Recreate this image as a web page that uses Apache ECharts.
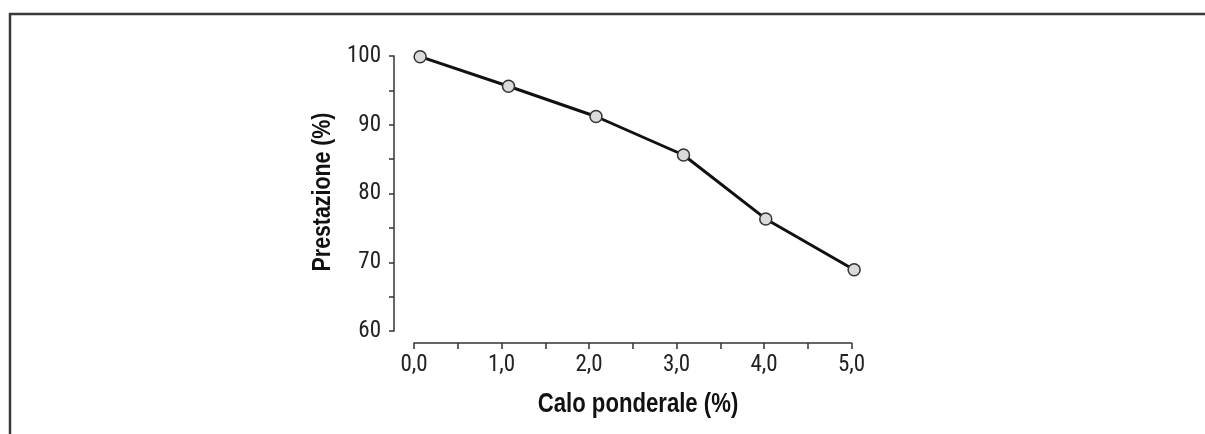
<!DOCTYPE html>
<html>
<head>
<meta charset="utf-8">
<script src="https://cdn.jsdelivr.net/npm/echarts@6/dist/echarts.min.js"></script>
<style>
html,body{margin:0;padding:0;background:#fff;}
#chart{width:1205px;height:434px;}
</style>
</head>
<body>
<div id="chart"></div>
<script>
// Data
var weightLoss = [0.07, 1.08, 2.08, 3.08, 4.02, 5.03];   // Calo ponderale (%)
var performance = [99.9, 95.6, 91.2, 85.6, 76.3, 68.9];  // Prestazione (%)
var xTitle = 'Calo ponderale (%)';
var yTitle = 'Prestazione (%)';

var LABEL_FONT = "'Roboto Condensed', 'Liberation Sans Narrow', 'DejaVu Sans Condensed', sans-serif";
var points = weightLoss.map(function (x, i) { return [x, performance[i]]; });

var hiddenAxis = { show: false };
var xCommon = { type: 'value', min: 0, max: 5, interval: 0.5 };
var yCommon = { type: 'value', min: 60, max: 100, interval: 5 };
var axisLineStyle = { color: '#333', width: 1.5 };

var chart = echarts.init(document.getElementById('chart'));
chart.setOption({
  animation: false,
  backgroundColor: '#ffffff',
  grid: [
    { left: 414, right: 353.5, top: 56, bottom: 103 },   // data grid
    { left: 394, right: 353.5, top: 56, bottom: 103 },   // y axis, shifted left
    { left: 414, right: 353.5, top: 56, bottom: 91 }     // x axis, shifted down
  ],
  xAxis: [
    Object.assign({ gridIndex: 0 }, xCommon, hiddenAxis),
    Object.assign({ gridIndex: 1 }, xCommon, hiddenAxis),
    Object.assign({ gridIndex: 2 }, xCommon, {
      axisLine: { show: true, lineStyle: axisLineStyle },
      axisTick: { show: true, length: 6, inside: false, lineStyle: axisLineStyle },
      splitLine: { show: false },
      axisLabel: {
        margin: 11, fontFamily: LABEL_FONT, fontSize: 23, color: '#222',
        formatter: function (v) { return (Math.abs(v - Math.round(v)) < 1e-6) ? v.toFixed(1).replace('.', ',') : ''; }
      }
    })
  ],
  yAxis: [
    Object.assign({ gridIndex: 0 }, yCommon, hiddenAxis),
    Object.assign({ gridIndex: 1 }, yCommon, {
      axisLine: { show: true, lineStyle: axisLineStyle },
      axisTick: { show: true, length: 5, inside: false, lineStyle: axisLineStyle },
      splitLine: { show: false },
      axisLabel: {
        margin: 13, fontFamily: LABEL_FONT, fontSize: 23, color: '#222',
        formatter: function (v) { return (v % 10 === 0) ? String(v) : ''; }
      }
    }),
    Object.assign({ gridIndex: 2 }, yCommon, hiddenAxis)
  ],
  series: [{
    type: 'line',
    xAxisIndex: 0, yAxisIndex: 0,
    data: points,
    clip: false,
    symbol: 'circle',
    symbolSize: 12,
    lineStyle: { color: '#111', width: 3 },
    itemStyle: { color: '#dadada', borderColor: '#333', borderWidth: 1.5 }
  }],
  graphic: [
    {
      type: 'polyline',
      shape: { points: [[10, 434], [10, 14], [1205, 14]] },
      style: { stroke: '#3a3a3a', lineWidth: 2.5, fill: null }
    },
    {
      type: 'text', x: 638, y: 405, scaleX: 0.82,
      style: { text: xTitle, font: "bold 27px 'Liberation Sans', Arial, sans-serif", fill: '#111', textAlign: 'center', textVerticalAlign: 'middle' }
    },
    {
      type: 'text', x: 323, y: 192, rotation: Math.PI / 2, scaleX: 0.82,
      style: { text: yTitle, font: "bold 26px 'Liberation Sans', Arial, sans-serif", fill: '#111', textAlign: 'center', textVerticalAlign: 'middle' }
    }
  ]
});
</script>
</body>
</html>
